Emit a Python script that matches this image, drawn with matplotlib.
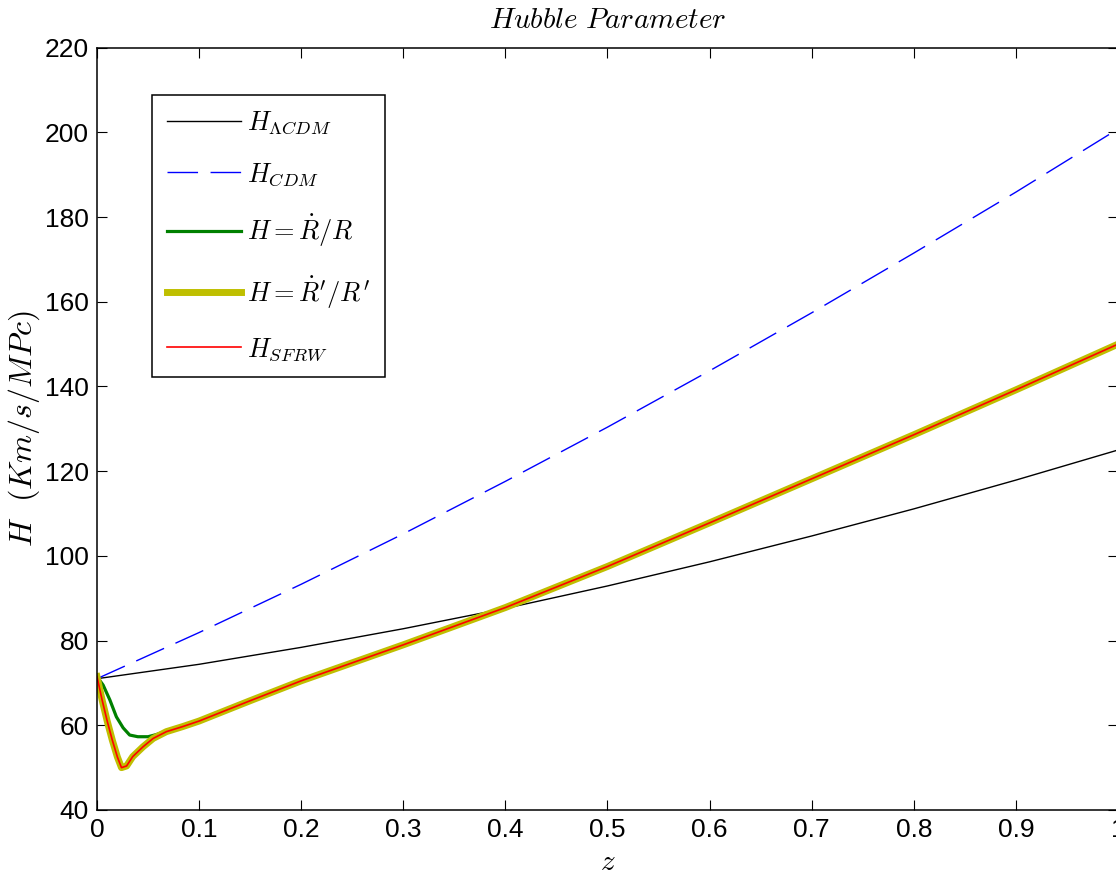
import matplotlib
matplotlib.use("Agg")
from matplotlib import pyplot as plt

plt.rcParams['mathtext.fontset'] = 'cm'

# redshift grid and values
z_smooth = [0.0, 0.1, 0.2, 0.3, 0.4, 0.5, 0.6, 0.7, 0.8, 0.9, 1.0]
H_lcdm = [71.0, 74.4, 78.4, 82.8, 87.6, 92.9, 98.6, 104.7, 111.1, 117.9, 125.0]
H_cdm = [71.0, 81.9, 93.3, 105.2, 117.6, 130.4, 143.7, 157.4, 171.5, 185.9, 200.8]

z_prime = [0.0, 0.005, 0.01, 0.015, 0.02, 0.024, 0.029, 0.035, 0.045, 0.055, 0.068,
           0.084, 0.1, 0.15, 0.2, 0.3, 0.4, 0.5, 0.6, 0.7, 0.8, 0.9, 1.0]
H_prime = [71.5, 66.0, 61.0, 56.5, 52.5, 50.0, 50.4, 52.6, 54.9, 56.9, 58.5,
           59.7, 61.0, 65.8, 70.5, 79.0, 87.8, 97.5, 107.8, 118.2, 128.6, 139.2, 150.0]
H_sfrw = [71.5, 66.0, 61.0, 56.5, 52.5, 50.0, 50.4, 52.6, 54.9, 56.9, 58.5,
          59.7, 61.0, 65.8, 70.5, 79.0, 87.8, 97.5, 107.8, 118.2, 128.6, 139.2, 150.0]

z_dot = [0.0, 0.006, 0.0126, 0.019, 0.0256, 0.032, 0.04, 0.05, 0.058, 0.068,
         0.084, 0.1, 0.15, 0.2, 0.3, 0.4, 0.5, 0.6, 0.7, 0.8, 0.9, 1.0]
H_dot = [71.5, 69.5, 66.0, 62.0, 59.4, 57.7, 57.3, 57.3, 57.8, 58.6,
         59.7, 61.0, 65.8, 70.5, 79.0, 87.8, 97.5, 107.8, 118.2, 128.6, 139.2, 150.0]

x_ticks = [0, 0.1, 0.2, 0.3, 0.4, 0.5, 0.6, 0.7, 0.8, 0.9, 1]
x_labels = ['0', '0.1', '0.2', '0.3', '0.4', '0.5', '0.6', '0.7', '0.8', '0.9', '1']
y_ticks = [40, 60, 80, 100, 120, 140, 160, 180, 200, 220]

fig = plt.figure(figsize=(11.16, 8.75), dpi=100)
ax = fig.add_axes([0.0869, 0.0743, 0.9149, 0.8712])

ax.plot(z_smooth, H_lcdm, color='black', lw=1.0, label=r'$H_{\Lambda CDM}$')
ax.plot(z_smooth, H_cdm, color='#0000ff', lw=1.0, dashes=(22, 9), label=r'$H_{CDM}$')
ax.plot(z_dot, H_dot, color='#008000', lw=2.3, label=r'$H=\dot{R}/R$')
ax.plot(z_prime, H_prime, color='#bfbf00', lw=5.0, label=r"$H=\dot{R}'/R'$")
ax.plot(z_prime, H_sfrw, color='#ff0000', lw=1.2, label=r'$H_{SFRW}$')

ax.set_xlim(0, 1)
ax.set_ylim(40, 220)
ax.set_xticks(x_ticks)
ax.set_xticklabels(x_labels)
ax.set_yticks(y_ticks)
ax.tick_params(direction='in', length=7.5, width=0.8, top=True, right=True,
               labelsize=19, pad=6)
for lab in ax.get_xticklabels() + ax.get_yticklabels():
    lab.set_family(['Liberation Sans Narrow', 'Liberation Sans', 'DejaVu Sans'])
for sp in ax.spines.values():
    sp.set_linewidth(1.1)

ax.set_title(r'$Hubble\ Parameter$', fontsize=21, pad=14)
ax.set_ylabel(r'$H\ \ (Km/s/MPc)$', fontsize=23, labelpad=2)
ax.set_xlabel(r'$z$', fontsize=21, labelpad=4)

leg = ax.legend(loc='upper left', bbox_to_anchor=(0.054, 0.938), borderaxespad=0,
                fontsize=19, handlelength=2.8, handletextpad=0.25, labelspacing=0.95,
                borderpad=0.55, fancybox=False, framealpha=1, edgecolor='black')
leg.get_frame().set_linewidth(1.1)

fig.savefig('out.png', dpi=100)
plt.close(fig)
